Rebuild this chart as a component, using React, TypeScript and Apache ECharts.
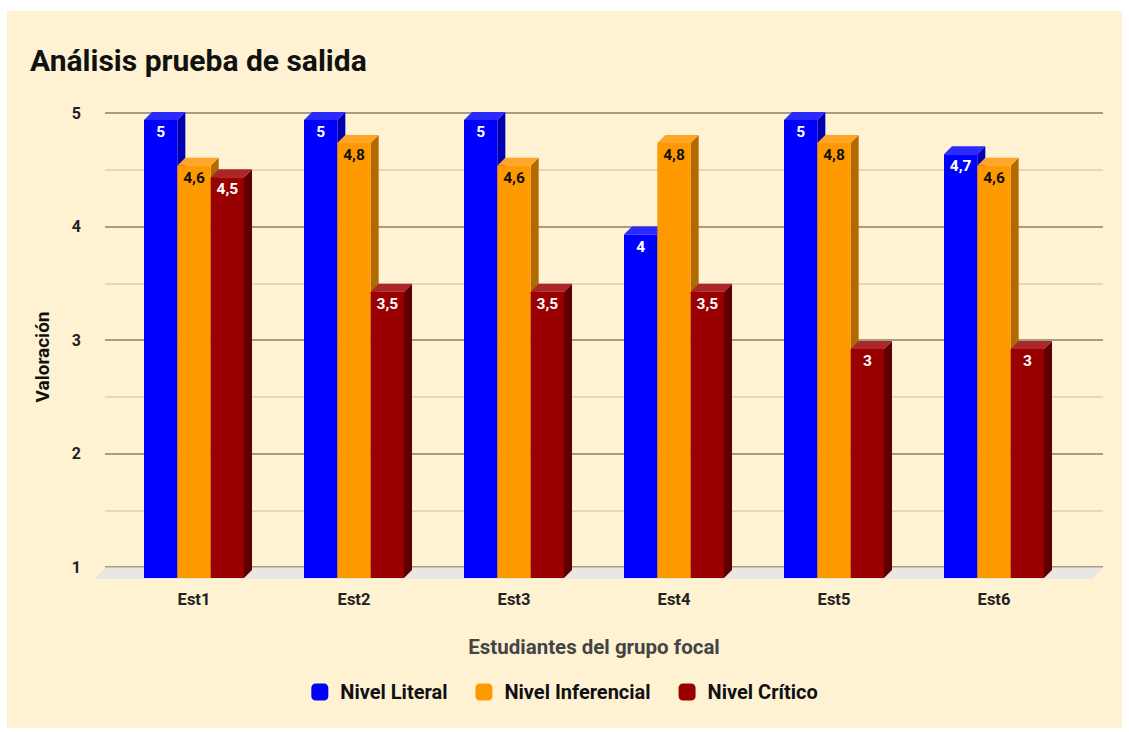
import React, { useEffect, useRef } from "react";
import * as echarts from "echarts";

const categories = ["Est1", "Est2", "Est3", "Est4", "Est5", "Est6"];
const seriesNames = ["Nivel Literal", "Nivel Inferencial", "Nivel Crítico"];
const literal = [5, 5, 5, 4, 5, 4.7];
const inferencial = [4.6, 4.8, 4.6, 4.8, 4.8, 4.6];
const critico = [4.5, 3.5, 3.5, 3.5, 3, 3];
const yTicks = [1, 2, 3, 4, 5];

const palettes = [
  { front: "#0000ff", top: "#2b2bff", side: "#0000b0", label: "#ffffff" },
  { front: "#ff9900", top: "#ffa626", side: "#b06a00", label: "#111111" },
  { front: "#990000", top: "#ab2626", side: "#5f0000", label: "#ffffff" },
];

const fmt = (v: number) => String(v).replace(".", ",");

export default function App() {
  const ref = useRef<HTMLDivElement>(null);
  useEffect(() => {
    if (!ref.current) return;
    const chart = echarts.init(ref.current, null, { renderer: "svg" });
    const seriesData = [literal, inferencial, critico];
    const makeSeries = (s: number) => {
      const pal = palettes[s];
      return {
        type: "custom",
        name: seriesNames[s],
        xAxisIndex: 1,
        yAxisIndex: 1,
        itemStyle: { color: pal.front },
        encode: { x: 0, y: 1 },
        data: seriesData[s].map((v, i) => [i, v]),
        renderItem: (params: any, api: any) => {
          const idx = api.value(0);
          const val = api.value(1);
          const top = api.coord([idx, val]);
          const base = api.coord([idx, 1]);
          const bw = 100 / 3;
          const x0 = top[0] - 50 + s * bw;
          const x1 = x0 + bw;
          const y0 = top[1];
          const y1 = base[1];
          const d = 8;
          return {
            type: "group",
            children: [
              {
                type: "polygon",
                shape: { points: [[x1, y0], [x1 + d, y0 - d], [x1 + d, y1 - d], [x1, y1]] },
                style: { fill: pal.side },
              },
              {
                type: "polygon",
                shape: { points: [[x0, y0], [x0 + d, y0 - d], [x1 + d, y0 - d], [x1, y0]] },
                style: { fill: pal.top },
              },
              {
                type: "rect",
                shape: { x: x0, y: y0, width: bw, height: y1 - y0 },
                style: { fill: pal.front },
              },
              {
                type: "text",
                x: (x0 + x1) / 2,
                y: y0 + 12,
                style: {
                  text: fmt(val),
                  fill: pal.label,
                  fontSize: 15.5,
                  fontWeight: "bold",
                  fontFamily: "Roboto",
                  align: "center",
                  verticalAlign: "middle",
                },
              },
            ],
          };
        },
      };
    };

    chart.setOption({
      animation: false,
      backgroundColor: "transparent",
      textStyle: { fontFamily: "Roboto" },
      title: {
        text: "Análisis prueba de salida",
        left: 30,
        top: 45,
        padding: 0,
        textStyle: { fontSize: 30, fontWeight: "bold", color: "#111111", fontFamily: "Roboto" },
      },
      legend: {
        data: seriesNames,
        left: "center",
        top: 677,
        icon: "roundRect",
        itemWidth: 17,
        itemHeight: 17,
        itemGap: 28,
        textStyle: {
          fontSize: 20,
          fontWeight: "bold",
          color: "#111111",
          fontFamily: "Roboto",
          padding: [0, 0, 0, 7],
        },
      },
      grid: [
        { left: 105, right: 26, top: 113, bottom: 165 },
        { left: 114, right: 55, top: 120, bottom: 154 },
      ],
      xAxis: [
        { type: "category", gridIndex: 0, data: categories, show: false },
        {
          type: "category",
          gridIndex: 1,
          data: categories,
          axisLine: { show: false },
          axisTick: { show: false },
          axisLabel: { margin: 13, fontSize: 16.5, fontWeight: "bold", color: "#222222", fontFamily: "Roboto" },
          name: "Estudiantes del grupo focal",
          nameLocation: "middle",
          nameGap: 58,
          nameTextStyle: { fontSize: 20.5, fontWeight: "bold", color: "#444444", fontFamily: "Roboto" },
        },
      ],
      yAxis: [
        {
          type: "value",
          gridIndex: 0,
          min: 1,
          max: 5,
          interval: 0.5,
          axisLine: { show: false },
          axisTick: { show: false },
          axisLabel: {
            margin: 24,
            fontSize: 16,
            fontWeight: "bold",
            color: "#222222",
            fontFamily: "Roboto",
            formatter: (v: number) => (yTicks.includes(v) ? String(v) : ""),
          },
          splitLine: { lineStyle: { color: ["#85806c", "#d8cfb5"], width: 1.5 } },
        },
        { type: "value", gridIndex: 1, min: 1, max: 5, show: false, splitLine: { show: false } },
      ],
      graphic: [
        {
          type: "polygon",
          z: 1,
          shape: { points: [[105, 567.5], [1103, 567.5], [1093, 579], [95, 579]] },
          style: { fill: "#e9e7e1" },
        },
        {
          type: "text",
          x: 42,
          y: 357,
          rotation: Math.PI / 2,
          style: {
            text: "Valoración",
            fill: "#111111",
            fontSize: 19,
            fontWeight: "bold",
            fontFamily: "Roboto",
            align: "center",
            verticalAlign: "middle",
          },
        },
      ],
      series: [0, 1, 2].map(makeSeries),
    });
    return () => chart.dispose();
  }, []);

  return (
    <div style={{ position: "fixed", left: 0, top: 0, width: 1129, height: 732, background: "#ffffff" }}>
      <div style={{ position: "absolute", left: 7, top: 11, width: 1115, height: 717, background: "#fef2d3" }} />
      <div ref={ref} style={{ position: "absolute", left: 0, top: 0, width: 1129, height: 732 }} />
    </div>
  );
}
